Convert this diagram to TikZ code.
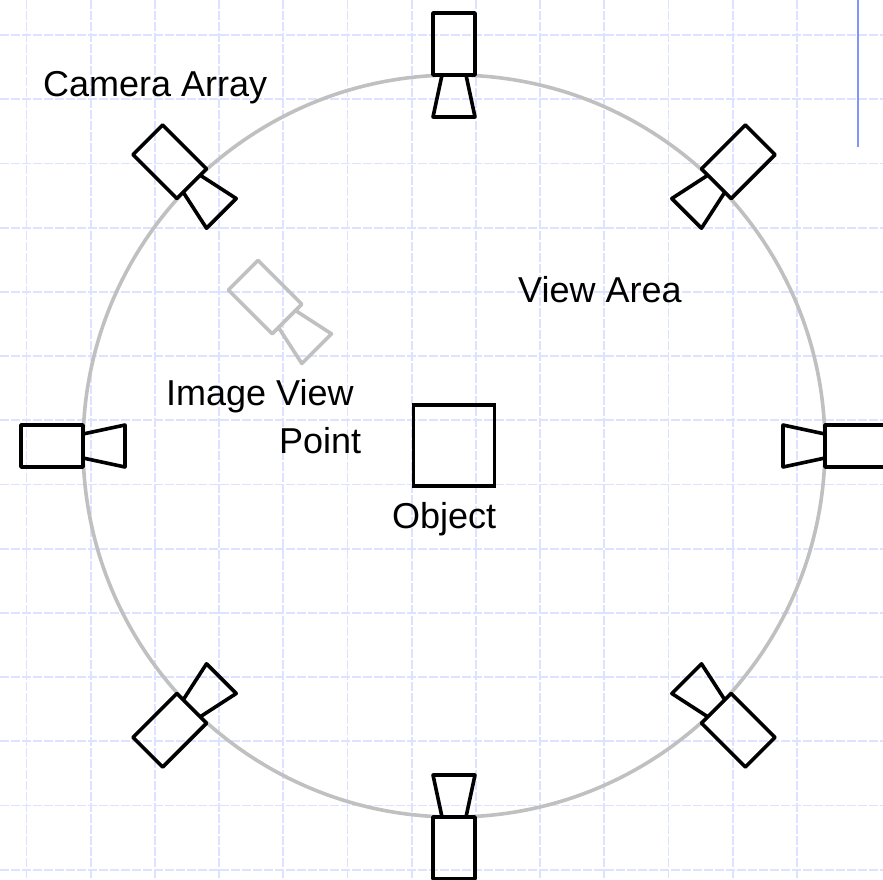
\documentclass[tikz,border=0pt]{standalone}
\usepackage{fontspec}
\setmainfont{Liberation Sans}
\usetikzlibrary{positioning}
\tikzset{txt/.style={inner sep=0pt,anchor=base west,font=\fontsize{36}{40}\selectfont},
	 objbox/.style={rectangle,draw,line width=3.6pt,inner sep=0pt,minimum size=81pt},
	 gridln/.style={draw=gridblue,line width=1.8pt,dash pattern=on 9pt off 2pt},
	 camera/.pic={
		\draw[line join=round] (0,-21) rectangle (62,21);
		\draw[line join=round] (0,-12) -- (-42,-21) -- (-42,21) -- (0,12);
		}
	 }
\definecolor{gridblue}{RGB}{220,226,255}
\definecolor{ringgray}{RGB}{192,192,192}
\definecolor{barblue}{RGB}{130,150,250}

\begin{document}
\begin{tikzpicture}[x=1pt,y=1pt] % ring of cameras round the object
	\useasboundingbox (0,-879) rectangle (883,0);
	\foreach \gx in {26.5,90.7,...,860} \draw[gridln] (\gx,0) -- (\gx,-879);
	\foreach \gy in {35,99.2,...,875} \draw[gridln] (0,-\gy) -- (883,-\gy);
	\draw[barblue,line width=2pt] (858,0) -- (858,-147);
	\coordinate (c) at (454,-446);
	\draw[ringgray,line width=3.6pt] (c) circle (371);
	\foreach \a in {0,45,...,315}
		\path[draw,line width=3.6pt] (c) ++(\a:371) pic[rotate=\a] {camera};
	\path[draw=ringgray,line width=3.6pt] (287,-319) pic[rotate=135,ringgray] {camera};
	\node[objbox] (object) at (454,-445.5) {};
	\node[txt] (camtxt) at (43,-96) {Camera Array};
	\node[txt] (viewtxt) at (518,-302) {View Area};
	\node[txt] (imgtxt) at (166,-405) {Image View};
	\node[txt] (pointtxt) at (279,-453) {Point};
	\node[txt] (objtxt) at (392,-528) {Object};
\end{tikzpicture}
\end{document}
